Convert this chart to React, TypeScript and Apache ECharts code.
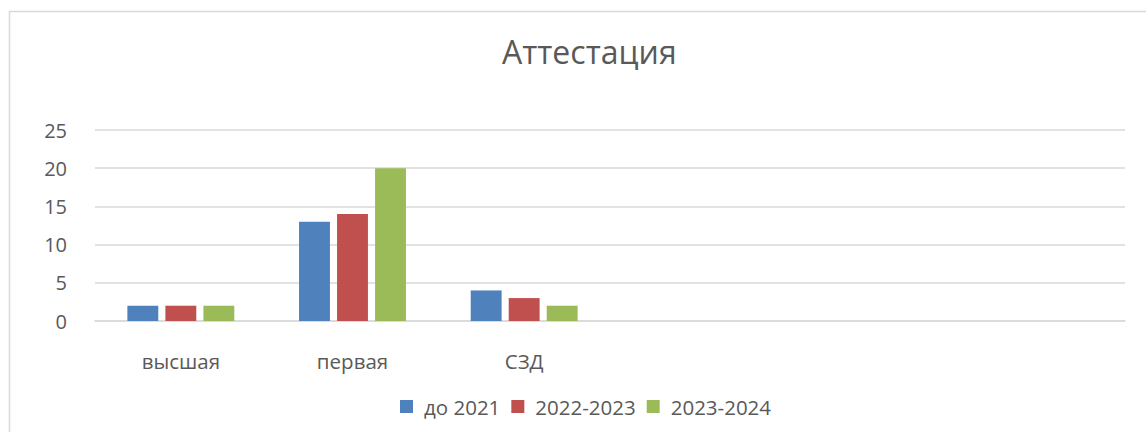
import React, { useEffect, useRef } from "react";
import * as echarts from "echarts";

const categories = ["высшая", "первая", "СЗД", "", "", ""];
const seriesNames = ["до 2021", "2022-2023", "2023-2024"];
const values2021 = [2, 13, 4];
const values2022 = [2, 14, 3];
const values2023 = [2, 20, 2];
const colors = ["#4f81bd", "#c0504d", "#9bbb59"];

export default function App() {
  const ref = useRef<HTMLDivElement>(null);
  useEffect(() => {
    if (!ref.current) return;
    const chart = echarts.init(ref.current, null, { renderer: "svg" });
    const font = "Open Sans, Noto Sans, sans-serif";
    const data = [values2021, values2022, values2023];
    chart.setOption({
      animation: false,
      color: colors,
      textStyle: { fontFamily: font },
      title: {
        text: "Аттестация",
        left: 497,
        top: 30,
        textStyle: { fontSize: 32, fontWeight: "normal", color: "#595959", fontFamily: font },
      },
      graphic: [
        {
          type: "rect",
          shape: { x: 9.5, y: 11.5, width: 1160, height: 440 },
          style: { fill: "none", stroke: "#d9d9d9", lineWidth: 1.5 },
          silent: true,
        },
      ],
      legend: {
        data: seriesNames,
        bottom: 10,
        left: 395,
        itemWidth: 13,
        itemHeight: 13,
        itemGap: 11,
        icon: "rect",
        textStyle: { fontSize: 20.5, color: "#595959", fontFamily: font, padding: [0, 0, 0, 6] },
      },
      grid: { left: 95, right: 21, top: 130, bottom: 111 },
      xAxis: {
        type: "category",
        data: categories,
        axisLine: { show: true, lineStyle: { color: "#d9d9d9", width: 1.5 } },
        axisTick: { show: false },
        axisLabel: { fontSize: 20.5, color: "#595959", margin: 29, fontFamily: font },
      },
      yAxis: {
        type: "value",
        min: 0,
        max: 25,
        interval: 5,
        axisLine: { show: false },
        axisTick: { show: false },
        splitLine: { lineStyle: { color: "#d9d9d9", width: 1.5 } },
        axisLabel: { fontSize: 20, color: "#595959", margin: 28, fontFamily: font },
      },
      series: seriesNames.map((name, i) => ({
        name,
        type: "bar",
        data: data[i],
        barWidth: "18%",
        barGap: "23%",
        itemStyle: { color: colors[i] },
      })),
    });
    return () => chart.dispose();
  }, []);
  return (
    <div
      ref={ref}
      style={{ position: "absolute", left: 0, top: 0, width: 1146, height: 432 }}
    />
  );
}
